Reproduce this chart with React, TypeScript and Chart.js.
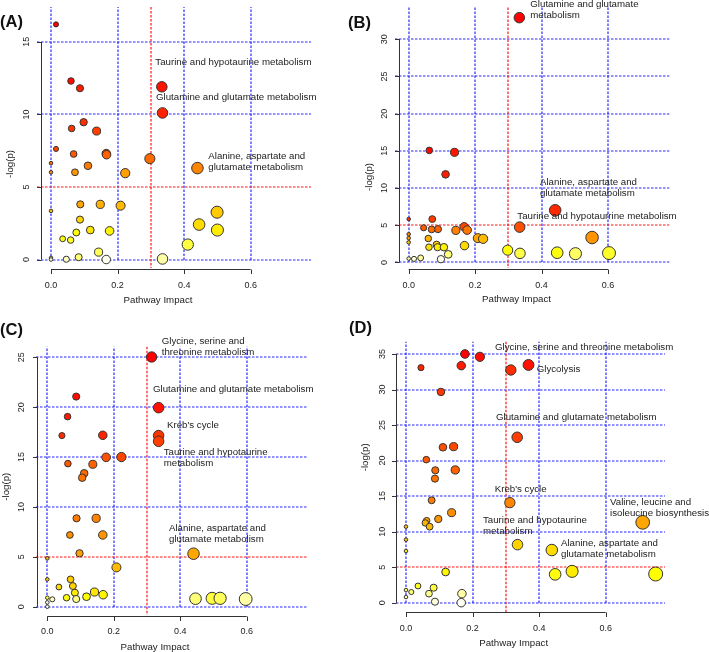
import React, { useEffect, useRef } from "react";
import { Chart, registerables } from "chart.js";

Chart.register(...registerables);

// ---------- data ----------
const X_TICKS = [0, 0.2, 0.4, 0.6];
const X_TICK_LABELS = ["0.0", "0.2", "0.4", "0.6"];
const X_THRESHOLD = 0.3;
const Y_THRESHOLD = 5;
const X_TITLE = "Pathway Impact";
const Y_TITLE = "-log(p)";

// (A)
const xA = [0.015, 0.06, 0.087, 0.333, 0.335, 0.098, 0.062, 0.137, 0.015, 0.068, 0.166, 0.167, 0.297, 0.0, 0.0, 0.072, 0.111, 0.223, 0.44, 0.0, 0.088, 0.148, 0.209, 0.087, 0.076, 0.035, 0.059, 0.118, 0.176, 0.445, 0.499, 0.5, 0.411, 0.143, 0.0, 0.0, 0.046, 0.083, 0.166, 0.335];
const yA = [16.2, 12.3, 11.8, 11.9, 10.1, 9.46, 9.03, 8.85, 7.62, 7.27, 7.3, 7.22, 6.95, 6.64, 6.01, 6.01, 6.46, 5.95, 6.3, 3.35, 3.8, 3.8, 3.71, 2.75, 1.86, 1.43, 1.34, 2.03, 1.97, 2.41, 3.26, 2.03, 1.03, 0.51, 0.11, 0.0, 0.02, 0.16, 0.0, 0.04];
const yTicksA = [0, 5, 10, 15];

// (B)
const xB = [0.333, 0.062, 0.138, 0.111, 0.441, 0.0, 0.071, 0.334, 0.045, 0.069, 0.088, 0.167, 0.142, 0.176, 0.0, 0.0, 0.0, 0.059, 0.208, 0.224, 0.552, 0.084, 0.061, 0.087, 0.106, 0.168, 0.119, 0.298, 0.335, 0.447, 0.502, 0.603, 0.0, 0.016, 0.036, 0.097];
const yB = [32.9, 15.06, 14.8, 11.84, 7.01, 5.83, 5.83, 4.75, 4.66, 4.44, 4.48, 4.79, 4.31, 4.35, 3.79, 3.27, 2.7, 3.22, 3.27, 3.18, 3.35, 2.39, 2.05, 2.05, 2.05, 2.26, 1.09, 1.65, 1.22, 1.31, 1.18, 1.26, 0.52, 0.48, 0.61, 0.44];
const yTicksB = [0, 5, 10, 15, 20, 25, 30];

// (C)
const xC = [0.314, 0.087, 0.335, 0.061, 0.044, 0.167, 0.335, 0.335, 0.177, 0.223, 0.062, 0.137, 0.111, 0.105, 0.088, 0.147, 0.068, 0.167, 0.097, 0.44, 0.0, 0.208, 0.0, 0.07, 0.077, 0.035, 0.083, 0.142, 0.168, 0.058, 0.118, 0.087, 0.0, 0.015, 0.0, 0.0, 0.446, 0.496, 0.52, 0.597];
const yC = [25.03, 21.06, 19.95, 19.05, 17.15, 17.18, 17.15, 16.58, 14.97, 15.0, 14.34, 14.27, 13.37, 12.93, 8.86, 8.86, 7.19, 7.19, 5.35, 5.31, 4.85, 3.94, 2.74, 2.74, 2.07, 1.97, 1.4, 1.47, 1.2, 0.9, 1.0, 0.77, 0.9, 0.74, 0.43, 0.0, 0.8, 0.84, 0.84, 0.77];
const yTicksC = [0, 5, 10, 15, 20, 25];

// (D)
const xD = [0.177, 0.222, 0.045, 0.166, 0.315, 0.368, 0.105, 0.334, 0.111, 0.143, 0.061, 0.088, 0.148, 0.087, 0.077, 0.312, 0.137, 0.062, 0.097, 0.058, 0.071, 0.711, 0.0, 0.0, 0.0, 0.335, 0.438, 0.119, 0.448, 0.499, 0.75, 0.036, 0.016, 0.0, 0.083, 0.069, 0.168, 0.0, 0.087, 0.166];
const yD = [35.0, 34.6, 33.08, 33.36, 32.75, 33.46, 29.66, 23.28, 21.87, 21.96, 20.13, 18.63, 18.68, 17.46, 14.41, 14.08, 12.67, 11.54, 11.78, 11.22, 10.7, 11.31, 10.7, 8.87, 7.27, 8.17, 7.41, 4.32, 3.99, 4.41, 4.04, 2.35, 1.5, 1.78, 2.11, 1.27, 1.27, 0.8, 0.14, 0.0];
const yTicksD = [0, 5, 10, 15, 20, 25, 30, 35];

// ---------- layout / style ----------
const BLUE = "rgb(40,40,255)";
const RED = "rgb(255,20,20)";
const DASH = [2.5, 1.5];
const AXIS = "#333";
const TEXT = "#222";
const FONT = '"Liberation Sans", Arial, sans-serif';

type Note = { lines: string[]; x: number; y: number };
type Panel = {
  tag: string;
  left: number; top: number; width: number; height: number;
  area: { l: number; r: number; t: number; b: number };
  xRange: [number, number];
  yRange: [number, number];
  xs: number[]; ys: number[]; yTicks: number[];
  yAxisX: number; xAxisY: number;
  yTickX: number; xTickY: number;
  xTitle: [number, number]; yTitle: [number, number];
  tagPos: [number, number];
  notes: Note[];
};

const panels: Panel[] = [
  {
    tag: "(A)", left: 0, top: 0, width: 345, height: 312,
    area: { l: 37, r: 311, t: 0, b: 268 },
    xRange: [-0.0421, 0.7812], yRange: [-0.584, 17.395],
    xs: xA, ys: yA, yTicks: yTicksA,
    yAxisX: 40.7, xAxisY: 269, yTickX: 26.7, xTickY: 286,
    xTitle: [158, 300], yTitle: [10, 164], tagPos: [0, 26.5],
    notes: [
      { lines: ["Taurine and hypotaurine metabolism"], x: 155.3, y: 62.7 },
      { lines: ["Glutamine and glutamate metabolism"], x: 156, y: 97.3 },
      { lines: ["Alanine, aspartate and", "glutamate metabolism"], x: 208.3, y: 156.7 },
    ],
  },
  {
    tag: "(B)", left: 345, top: 0, width: 364, height: 312,
    area: { l: 395, r: 669.3, t: 0, b: 268 },
    xRange: [-0.0412, 0.7845], yRange: [-0.745, 34.27],
    xs: xB, ys: yB, yTicks: yTicksB,
    yAxisX: 399, xAxisY: 269.3, yTickX: 385, xTickY: 286,
    xTitle: [516.5, 299.3], yTitle: [369.3, 177], tagPos: [348, 28],
    notes: [
      { lines: ["Glutamine and glutamate", "metabolism"], x: 530.3, y: 4.3 },
      { lines: ["Alanine, aspartate and", "glutamate metabolism"], x: 540, y: 182 },
      { lines: ["Taurine and hypotaurrine metabolism"], x: 517.3, y: 216.7 },
    ],
  },
  {
    tag: "(C)", left: 0, top: 312, width: 345, height: 340,
    area: { l: 36, r: 306.7, t: 346.7, b: 615 },
    xRange: [-0.034, 0.7806], yRange: [-0.832, 26.06],
    xs: xC, ys: yC, yTicks: yTicksC,
    yAxisX: 37.3, xAxisY: 615.7, yTickX: 21.7, xTickY: 631.7,
    xTitle: [155, 647.3], yTitle: [6, 486.7], tagPos: [0, 334.5],
    notes: [
      { lines: ["Glycine, serine and", "threonine metabolism"], x: 161.7, y: 341.7 },
      { lines: ["Glutamine and glutamate metabolism"], x: 153, y: 389.3 },
      { lines: ["Kreb's cycle"], x: 167, y: 425.7 },
      { lines: ["Taurine and hypotaurine", "metabolism"], x: 163.7, y: 452 },
      { lines: ["Alanine, aspartate and", "glutamate metabolism"], x: 169, y: 528 },
    ],
  },
  {
    tag: "(D)", left: 345, top: 312, width: 364, height: 340,
    area: { l: 396, r: 665, t: 341.7, b: 613 },
    xRange: [-0.03, 0.778], yRange: [-1.45, 36.73],
    xs: xD, ys: yD, yTicks: yTicksD,
    yAxisX: 395.7, xAxisY: 612.3, yTickX: 382.7, xTickY: 629,
    xTitle: [513.7, 643.3], yTitle: [365, 457.3], tagPos: [349, 333],
    notes: [
      { lines: ["Glycine, serine and threonine metabolism"], x: 495, y: 347.7 },
      { lines: ["Glycolysis"], x: 536.7, y: 369.3 },
      { lines: ["Glutamine and glutamate metabolism"], x: 496, y: 417.7 },
      { lines: ["Kreb's cycle"], x: 494.7, y: 489 },
      { lines: ["Valine, leucine and", "isoleucine biosynthesis"], x: 610, y: 502 },
      { lines: ["Taurine and hypotaurine", "metabolism"], x: 483, y: 520.3 },
      { lines: ["Alanine, aspartate and", "glutamate metabolism"], x: 561, y: 543.7 },
    ],
  },
];

// R's heat.colors(n)
function hsv(h: number, s: number, v: number): string {
  const i = Math.floor(h * 6);
  const f = h * 6 - i;
  const p = v * (1 - s);
  const q = v * (1 - f * s);
  const t = v * (1 - (1 - f) * s);
  let r = 0, g = 0, b = 0;
  switch (i % 6) {
    case 0: r = v; g = t; b = p; break;
    case 1: r = q; g = v; b = p; break;
    case 2: r = p; g = v; b = t; break;
    case 3: r = p; g = q; b = v; break;
    case 4: r = t; g = p; b = v; break;
    default: r = v; g = p; b = q;
  }
  return `rgb(${Math.round(r * 255)},${Math.round(g * 255)},${Math.round(b * 255)})`;
}
function heatColors(n: number): string[] {
  const j = Math.floor(n / 4);
  const i = n - j;
  const cols: string[] = [];
  for (let k = 0; k < i; k++) cols.push(hsv(i > 1 ? (k / (i - 1)) / 6 : 0, 1, 1));
  const s0 = 1 - 1 / (2 * j), s1 = 1 / (2 * j);
  for (let k = 0; k < j; k++) cols.push(hsv(1 / 6, j > 1 ? s0 + (k * (s1 - s0)) / (j - 1) : s0, 1));
  return cols;
}

const radiusFor = (x: number) => 1.8 + 6 * Math.sqrt(Math.abs(x));

function makeDecor(p: Panel) {
  const ox = p.left, oy = p.top;
  return {
    id: "decor" + p.tag.replace(/[()]/g, ""),
    beforeDatasetsDraw(chart: any) {
      const { ctx, chartArea: a } = chart;
      const sx = chart.scales.x, sy = chart.scales.y;
      const line = (x1: number, y1: number, x2: number, y2: number, c: string) => {
        ctx.strokeStyle = c;
        ctx.beginPath();
        ctx.moveTo(x1, y1);
        ctx.lineTo(x2, y2);
        ctx.stroke();
      };
      ctx.save();
      ctx.lineWidth = 1.2;
      ctx.setLineDash(DASH);
      const y0 = Math.round(sy.getPixelForValue(0));
      for (const t of p.yTicks) {
        if (t === Y_THRESHOLD) continue;
        const py = Math.round(sy.getPixelForValue(t));
        line(a.left, py, a.right, py, BLUE);
      }
      for (const t of X_TICKS) {
        const px = Math.round(sx.getPixelForValue(t));
        line(px, y0, px, a.top, BLUE);
      }
      const ry = Math.round(sy.getPixelForValue(Y_THRESHOLD));
      line(a.left, ry, a.right, ry, RED);
      const rx = Math.round(sx.getPixelForValue(X_THRESHOLD));
      line(rx, a.top, rx, a.bottom, RED);

      // axes (R style: only spanning the tick range, outward ticks)
      ctx.setLineDash([]);
      ctx.lineWidth = 1;
      const ax = Math.round(p.yAxisX - ox) + 0.5;
      const ay = Math.round(p.xAxisY - oy) + 0.5;
      const yFirst = sy.getPixelForValue(p.yTicks[0]);
      const yLast = sy.getPixelForValue(p.yTicks[p.yTicks.length - 1]);
      line(ax, yFirst, ax, yLast, AXIS);
      for (const t of p.yTicks) {
        const py = Math.round(sy.getPixelForValue(t)) + 0.5;
        line(ax - 4.5, py, ax, py, AXIS);
      }
      line(sx.getPixelForValue(X_TICKS[0]), ay, sx.getPixelForValue(X_TICKS[X_TICKS.length - 1]), ay, AXIS);
      for (const t of X_TICKS) {
        const px = Math.round(sx.getPixelForValue(t)) + 0.5;
        line(px, ay, px, ay + 4.5, AXIS);
      }

      // tick labels
      ctx.fillStyle = TEXT;
      ctx.font = `9px ${FONT}`;
      ctx.textAlign = "center";
      ctx.textBaseline = "middle";
      X_TICKS.forEach((t, i) => {
        ctx.fillText(X_TICK_LABELS[i], sx.getPixelForValue(t), p.xTickY - oy);
      });
      for (const t of p.yTicks) {
        ctx.save();
        ctx.translate(p.yTickX - ox, sy.getPixelForValue(t));
        ctx.rotate(-Math.PI / 2);
        ctx.fillText(String(t), 0, 0);
        ctx.restore();
      }
      // axis titles
      ctx.font = `9.7px ${FONT}`;
      ctx.fillText(X_TITLE, p.xTitle[0] - ox, p.xTitle[1] - oy);
      ctx.save();
      ctx.translate(p.yTitle[0] - ox, p.yTitle[1] - oy);
      ctx.rotate(-Math.PI / 2);
      ctx.fillText(Y_TITLE, 0, 0);
      ctx.restore();
      // panel tag
      ctx.font = `bold 16.5px ${FONT}`;
      ctx.textAlign = "left";
      ctx.textBaseline = "alphabetic";
      ctx.fillStyle = "#111";
      ctx.fillText(p.tag, p.tagPos[0] - ox, p.tagPos[1] - oy);
      ctx.restore();
    },
    afterDatasetsDraw(chart: any) {
      const { ctx } = chart;
      ctx.save();
      ctx.fillStyle = TEXT;
      ctx.font = `9.7px ${FONT}`;
      ctx.textAlign = "left";
      ctx.textBaseline = "middle";
      for (const n of p.notes) {
        n.lines.forEach((s, i) => ctx.fillText(s, n.x - ox, n.y - oy + i * 11));
      }
      ctx.restore();
    },
  };
}

function PanelChart({ p }: { p: Panel }) {
  const ref = useRef<HTMLCanvasElement>(null);
  useEffect(() => {
    if (!ref.current) return;
    const order = p.ys.map((_, i) => i).sort((a, b) => p.ys[b] - p.ys[a]);
    const cols = heatColors(p.ys.length);
    const data = order.map((i) => ({ x: p.xs[i], y: p.ys[i] }));
    const chart = new Chart(ref.current, {
      type: "scatter",
      data: {
        datasets: [
          {
            data,
            pointRadius: (c: any) => radiusFor(c.raw ? c.raw.x : 0),
            pointHoverRadius: (c: any) => radiusFor(c.raw ? c.raw.x : 0),
            pointBackgroundColor: cols,
            pointBorderColor: "#333",
            pointBorderWidth: 1,
            pointHoverBorderWidth: 1,
            clip: false,
          } as any,
        ],
      },
      options: {
        animation: false,
        responsive: false,
        maintainAspectRatio: false,
        events: [],
        layout: {
          padding: {
            left: p.area.l - p.left,
            top: p.area.t - p.top,
            right: p.left + p.width - p.area.r,
            bottom: p.top + p.height - p.area.b,
          },
        },
        scales: {
          x: { type: "linear", min: p.xRange[0], max: p.xRange[1], display: false },
          y: { type: "linear", min: p.yRange[0], max: p.yRange[1], display: false },
        },
        plugins: { legend: { display: false }, tooltip: { enabled: false } },
      },
      plugins: [makeDecor(p)],
    });
    return () => chart.destroy();
  }, [p]);
  return (
    <canvas
      ref={ref}
      width={p.width}
      height={p.height}
      style={{ position: "absolute", left: p.left, top: p.top, width: p.width, height: p.height }}
    />
  );
}

export default function App() {
  return (
    <div style={{ position: "absolute", left: 0, top: 0, width: 709, height: 652, background: "#fff", overflow: "hidden" }}>
      {panels.map((p) => (
        <PanelChart key={p.tag} p={p} />
      ))}
    </div>
  );
}
